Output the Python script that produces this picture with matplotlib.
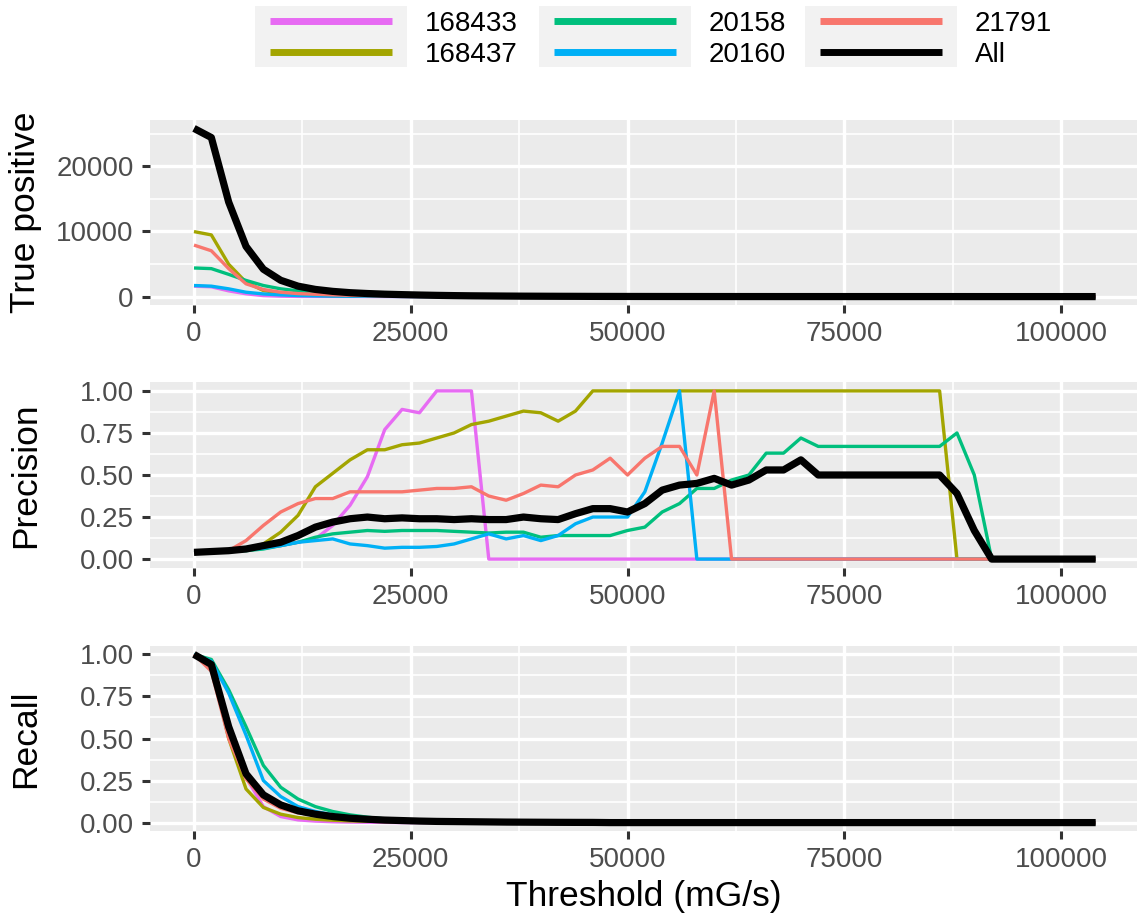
import numpy as np
import matplotlib.pyplot as plt
from matplotlib.patches import Rectangle
from matplotlib.ticker import MultipleLocator, FormatStrFormatter

plt.rcParams['font.family'] = ['Liberation Sans', 'DejaVu Sans']

# 阈值网格 (mG/s)
thresholds = np.arange(0, 104001, 2000)
n_pts = len(thresholds)


def pad(values):
    """tail of the curve reads as zero"""
    return list(values) + [0] * (n_pts - len(values))


series_names = ['168433', '168437', '20158', '20160', '21791', 'All']
series_colors = ['#E76BF3', '#A3A500', '#00BF7D', '#00B0F6', '#F8766D', '#000000']

# ---- True positive ----
tp_168433 = pad([1600, 1500, 880, 430, 150, 60, 26, 14, 8, 5, 3, 2, 2, 1, 1, 1, 1])
tp_168437 = pad([9970, 9460, 4960, 2200, 930, 520, 300, 200, 140, 100, 75, 55, 45, 35,
                 28, 22, 18, 15, 12, 10, 8, 7, 6, 5, 5, 4, 4, 4, 3, 3, 3, 3, 3, 3, 2,
                 2, 2, 2, 2, 2, 2, 2, 2, 2])
tp_20158 = pad([4390, 4290, 3410, 2480, 1700, 1190, 880, 620, 465, 330, 230, 160, 115,
                80, 60, 45, 33, 25, 18, 14, 10, 8, 6, 5, 4, 3, 3, 2, 2, 2, 2, 2, 2, 2,
                2, 2, 1, 1, 1, 1, 1, 1, 1, 1, 1, 1])
tp_20160 = pad([1700, 1600, 1190, 670, 410, 260, 160, 110, 75, 50, 35, 25, 18, 12, 9,
                7, 5, 4, 3, 2, 2, 1, 1, 1, 1, 1, 1, 1, 1])
tp_21791 = pad([7900, 7030, 4290, 1960, 1090, 670, 460, 360, 260, 190, 140, 100, 75, 55,
                40, 30, 22, 16, 12, 9, 7, 5, 4, 3, 3, 2, 2, 2, 1, 1, 1])
tp_all = pad([25800, 24400, 14500, 7700, 4200, 2500, 1600, 1100, 800, 600, 470, 370,
              300, 240, 190, 150, 120, 100, 80, 65, 55, 45, 38, 30, 25, 20, 17, 14, 12,
              10, 8, 7, 6, 5, 4, 4, 3, 3, 3, 3, 3, 3, 3, 3, 2, 1])

# ---- Precision ----
prec_168433 = pad([0.04, 0.045, 0.05, 0.055, 0.065, 0.08, 0.10, 0.12, 0.20, 0.32, 0.49,
                   0.77, 0.89, 0.87, 1.0, 1.0, 1.0])
prec_168437 = pad([0.04, 0.045, 0.05, 0.06, 0.09, 0.16, 0.26, 0.43, 0.51, 0.59, 0.65,
                   0.65, 0.68, 0.69, 0.72, 0.75, 0.80, 0.82, 0.85, 0.88, 0.87, 0.82,
                   0.88] + [1.0] * 21)
prec_20158 = pad([0.04, 0.045, 0.05, 0.05, 0.06, 0.08, 0.10, 0.13, 0.15, 0.16, 0.17,
                  0.165, 0.17, 0.17, 0.17, 0.165, 0.16, 0.155, 0.16, 0.16, 0.13, 0.14,
                  0.14, 0.14, 0.14, 0.17, 0.19, 0.28, 0.33, 0.42, 0.42, 0.47, 0.50,
                  0.63, 0.63, 0.72] + [0.67] * 8 + [0.75, 0.50])
prec_20160 = pad([0.04, 0.045, 0.05, 0.055, 0.065, 0.08, 0.10, 0.11, 0.12, 0.09, 0.08,
                  0.065, 0.07, 0.07, 0.075, 0.09, 0.12, 0.15, 0.12, 0.14, 0.11, 0.14,
                  0.21, 0.25, 0.25, 0.25, 0.40, 0.69, 1.0])
prec_21791 = pad([0.04, 0.045, 0.05, 0.11, 0.20, 0.28, 0.33, 0.36, 0.36, 0.40, 0.40,
                  0.40, 0.40, 0.41, 0.42, 0.42, 0.43, 0.375, 0.35, 0.39, 0.44, 0.43,
                  0.50, 0.53, 0.60, 0.50, 0.60, 0.67, 0.67, 0.50, 1.0])
prec_all = pad([0.04, 0.045, 0.05, 0.06, 0.08, 0.10, 0.14, 0.19, 0.22, 0.24, 0.25,
                0.24, 0.245, 0.24, 0.24, 0.235, 0.24, 0.235, 0.235, 0.25, 0.24, 0.235,
                0.27, 0.30, 0.30, 0.28, 0.33, 0.41, 0.44, 0.45, 0.48, 0.44, 0.47, 0.53,
                0.53, 0.59] + [0.50] * 8 + [0.39, 0.17])

# ---- Recall ----
rec_168433 = pad([1.0, 0.93, 0.55, 0.27, 0.095, 0.036, 0.016, 0.009, 0.005, 0.003,
                  0.002, 0.001])
rec_168437 = pad([1.0, 0.93, 0.50, 0.20, 0.09, 0.05, 0.03, 0.02, 0.014, 0.010, 0.008,
                  0.006, 0.005, 0.004, 0.003, 0.002])
rec_20158 = pad([1.0, 0.97, 0.79, 0.57, 0.34, 0.21, 0.14, 0.095, 0.066, 0.046, 0.032,
                 0.022, 0.016, 0.012, 0.009, 0.007, 0.005, 0.004, 0.003, 0.002])
rec_20160 = pad([1.0, 0.96, 0.77, 0.52, 0.25, 0.155, 0.095, 0.066, 0.046, 0.032, 0.022,
                 0.015, 0.011, 0.008, 0.006, 0.004, 0.003, 0.002, 0.001])
rec_21791 = pad([1.0, 0.90, 0.50, 0.26, 0.14, 0.085, 0.058, 0.045, 0.033, 0.024, 0.018,
                 0.013, 0.009, 0.007, 0.005, 0.004, 0.003, 0.002, 0.0015, 0.001])
rec_all = pad([1.0, 0.94, 0.57, 0.29, 0.165, 0.105, 0.07, 0.05, 0.036, 0.026, 0.02,
               0.015, 0.012, 0.009, 0.007, 0.006, 0.005, 0.004, 0.003, 0.0025, 0.002,
               0.0015, 0.0012, 0.001])

true_pos = [tp_168433, tp_168437, tp_20158, tp_20160, tp_21791, tp_all]
precision = [prec_168433, prec_168437, prec_20158, prec_20160, prec_21791, prec_all]
recall = [rec_168433, rec_168437, rec_20158, rec_20160, rec_21791, rec_all]

W, H = 1137, 922
fig = plt.figure(figsize=(W / 100, H / 100), dpi=100)

panel_left, panel_right = 150, 1137
panel_tops = [120, 382.5, 646]
panel_h = 185
# 0 sits 44 px in from the left edge, 100000 spans ~867 px
x_per_px = 100000 / 867
x_lo = -44 * x_per_px
x_hi = x_lo + (panel_right - panel_left) * x_per_px

panels = [
    ('True positive', true_pos, 10000, 5000, '%d'),
    ('Precision', precision, 0.25, 0.125, '%.2f'),
    ('Recall', recall, 0.25, 0.125, '%.2f'),
]

axes = []
for (ylabel, data, major, minor, fmt), top in zip(panels, panel_tops):
    ax = fig.add_axes([panel_left / W, (H - top - panel_h) / H,
                       (panel_right - panel_left) / W, panel_h / H])
    ax.set_facecolor('#EBEBEB')
    for sp in ax.spines.values():
        sp.set_visible(False)
    for name, color, vals in zip(series_names, series_colors, data):
        lw = 5.2 if name == 'All' else 2.4
        ax.plot(thresholds, vals, color=color, lw=lw, solid_capstyle='butt',
                solid_joinstyle='round')
    ax.set_xlim(x_lo, x_hi)
    ymax = max(max(v) for v in data)
    ax.set_ylim(-0.05 * ymax, 1.05 * ymax)
    ax.xaxis.set_major_locator(MultipleLocator(25000))
    ax.xaxis.set_minor_locator(MultipleLocator(12500))
    ax.yaxis.set_major_locator(MultipleLocator(major))
    ax.yaxis.set_minor_locator(MultipleLocator(minor))
    ax.yaxis.set_major_formatter(FormatStrFormatter(fmt))
    ax.xaxis.set_major_formatter(FormatStrFormatter('%d'))
    ax.grid(which='major', color='white', lw=2.4)
    ax.grid(which='minor', color='white', lw=1.2)
    ax.set_axisbelow(True)
    ax.tick_params(which='major', length=5.8, width=2.2, color='#333333',
                   labelsize=20, labelcolor='#4D4D4D', pad=6)
    ax.tick_params(which='minor', length=0)
    fig.text(26 / W, 1 - (top + panel_h / 2) / H, ylabel, rotation=90,
             ha='center', va='center', fontsize=25.5)
    axes.append(ax)

axes[-1].set_xlabel('Threshold (mG/s)', fontsize=25.5, labelpad=5)

# 图例 (顶部, 三列)
lax = fig.add_axes([0, (H - 75) / H, 1, 75 / H])
lax.set_xlim(0, W)
lax.set_ylim(75, 0)
lax.axis('off')
col_x = [255, 539, 805]
row_y = [21, 52]
for i, (name, color) in enumerate(zip(series_names, series_colors)):
    c, r = divmod(i, 2)
    x0 = col_x[c]
    if r == 0:
        lax.add_patch(Rectangle((x0, 6), 152, 61, facecolor='#F2F2F2',
                                edgecolor='none'))
    lax.plot([x0 + 15, x0 + 137], [row_y[r], row_y[r]], color=color, lw=5,
             solid_capstyle='butt')
    lax.text(x0 + 170, row_y[r], name, fontsize=20, ha='left',
             va='center_baseline', color='black')

fig.savefig('out.png', dpi=100)
